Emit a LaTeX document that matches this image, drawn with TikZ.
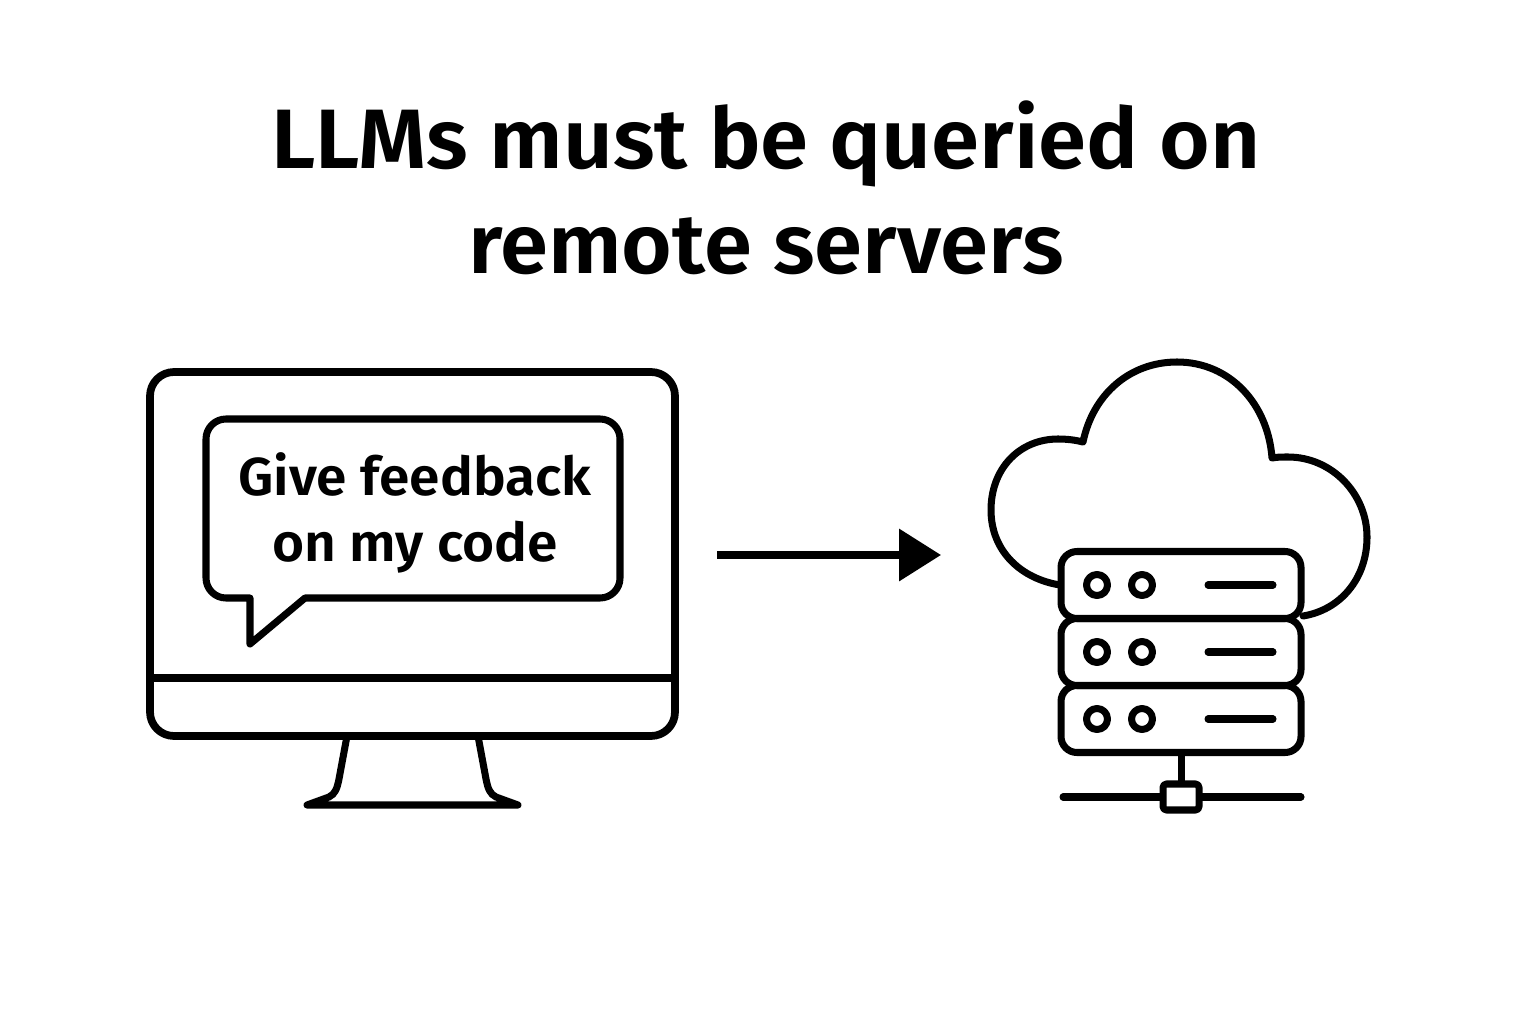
\documentclass[tikz,border=0pt]{standalone}
\usepackage{fontspec}
\setmainfont{Fira Sans}[BoldFont={Fira Sans SemiBold},BoldFeatures={FakeStretch=1.03}]
\usetikzlibrary{arrows.meta,positioning,calc}
\definecolor{InkBlack}{RGB}{0,0,0}
\tikzset{
  outline/.style={draw=InkBlack,line width=2pt,line join=round,line cap=round},
  rackbox/.style={outline,fill=white,rounded corners=0.16cm,minimum width=2.4cm,minimum height=0.67cm,inner sep=0pt},
  led/.style={circle,outline,fill=white,minimum size=0.21cm,inner sep=0pt}
}
\begin{document}
\begin{tikzpicture}
  \useasboundingbox (0,0) rectangle (15.36,10.24);
  % title
  \node[font=\fontsize{24}{30}\selectfont\bfseries,align=center] (title) at (7.66,8.36) {LLMs must be queried on\\remote servers};
  % monitor
  \draw[outline,line width=2.2pt,rounded corners=0.24cm] (1.5,2.88) rectangle (6.75,6.52);
  \draw[outline,line width=2.2pt] (1.5,3.46) -- (6.75,3.46);
  \draw[outline] (3.47,2.88) -- (3.39,2.45) .. controls (3.37,2.35) and (3.35,2.3) .. (3.29,2.27) -- (3.07,2.19) -- (5.18,2.19) -- (4.96,2.27) .. controls (4.9,2.3) and (4.88,2.35) .. (4.86,2.45) -- (4.78,2.88);
  % bubble
  \draw[outline] (2.5,4.26) -- (2.26,4.26) arc[start angle=270,end angle=180,radius=0.2] -- (2.06,5.85) arc[start angle=180,end angle=90,radius=0.2] -- (6,6.05) arc[start angle=90,end angle=0,radius=0.2] -- (6.2,4.46) arc[start angle=0,end angle=-90,radius=0.2] -- (3.05,4.26) -- (2.5,3.8) -- cycle;
  \node[font=\fontsize{15.2}{18.8}\selectfont\bfseries,align=center] (prompt) at (4.15,5.11) {Give feedback\\on my code};
  % arrow
  \coordinate (from) at (7.17,4.69);
  \coordinate (to) at (9.41,4.69);
  \draw[InkBlack,line width=2pt,-{Triangle[length=0.42cm,width=0.51cm]}] (from) -- (to);
  % cloud
  \draw[outline] (10.6,4.39) .. controls (10.22,4.45) and (9.91,4.72) .. (9.91,5.14)
    .. controls (9.91,5.56) and (10.2,5.85) .. (10.58,5.85)
    .. controls (10.67,5.85) and (10.75,5.84) .. (10.83,5.82)
    .. controls (10.93,6.3) and (11.3,6.62) .. (11.77,6.62)
    .. controls (12.3,6.62) and (12.68,6.2) .. (12.72,5.66)
    .. controls (12.77,5.67) and (12.82,5.67) .. (12.88,5.67)
    .. controls (13.32,5.67) and (13.67,5.3) .. (13.67,4.87)
    .. controls (13.67,4.45) and (13.4,4.14) .. (13.03,4.08);
  % server rack
  \node[rackbox] (rackc) at (11.81,3.05) {};
  \node[rackbox] (rackb) at (11.81,3.72) {};
  \node[rackbox] (racka) at (11.81,4.39) {};
  \foreach \r in {racka,rackb,rackc}{
    \node[led] (\r l) at ($(\r.center)+(-0.84,0)$) {};
    \node[led] (\r m) at ($(\r.center)+(-0.39,0)$) {};
    \draw[outline] ($(\r.center)+(0.27,0)$) -- ($(\r.center)+(0.92,0)$);
  }
  % network
  \node[outline,fill=white,minimum width=0.36cm,minimum height=0.26cm,inner sep=0pt,rounded corners=1pt] (hub) at (11.81,2.27) {};
  \coordinate (netl) at (10.63,2.27);
  \coordinate (netr) at (13.01,2.27);
  \draw[outline] (rackc.south) -- (hub.north);
  \draw[outline] (netl) -- (hub.west);
  \draw[outline] (hub.east) -- (netr);
\end{tikzpicture}
\end{document}
